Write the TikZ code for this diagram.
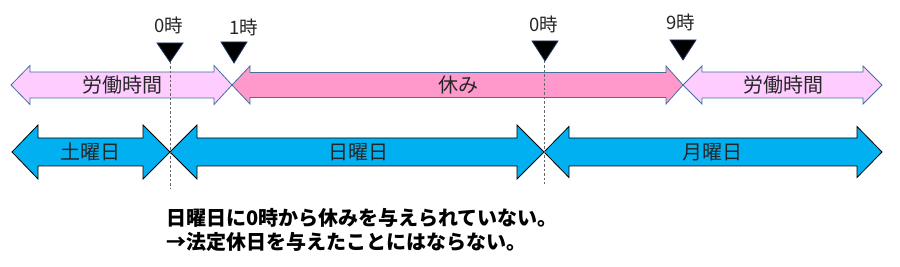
\documentclass[tikz,border=0pt]{standalone}
\usepackage{fontspec}
\newfontfamily\jp{Noto Sans CJK JP}
\definecolor{lpink}{HTML}{FFCCFF}
\definecolor{mpink}{HTML}{FF99CC}
\definecolor{dayblue}{HTML}{00B0F0}
\definecolor{edgeblue}{HTML}{41719C}
\definecolor{tridge}{HTML}{203864}
\definecolor{txt}{HTML}{262626}
\newcommand{\dblarr}[8]{%
  \filldraw[#1] (#2,#6) -- (#3,#6-#8) -- (#3,#6-#7) -- (#4,#6-#7) -- (#4,#6-#8) -- (#5,#6)
    -- (#4,#6+#8) -- (#4,#6+#7) -- (#3,#6+#7) -- (#3,#6+#8) -- cycle;}
\newcommand{\marktri}[3]{%
  \filldraw[tri] (#1-13,#2) -- (#1+13,#2) -- (#1,#3) -- cycle;}
\tikzset{
  workarr/.style={fill=lpink, draw=edgeblue, line width=0.8pt, line join=miter},
  restarr/.style={fill=mpink, draw=edgeblue, line width=0.8pt, line join=miter},
  dayarr/.style={fill=dayblue, draw=black, line width=0.8pt, line join=miter},
  tri/.style={fill=black, draw=tridge, line width=0.8pt},
  lbl/.style={font=\jp\fontsize{20}{23}\selectfont, text=txt, inner sep=0pt},
  timelbl/.style={font=\jp\fontsize{18.5}{21}\selectfont, text=txt, inner sep=0pt},
  note/.style={font=\jp\bfseries\fontsize{20}{23}\selectfont, text=black, inner sep=0pt, anchor=west},
  guide/.style={draw=gray!80!black, dashed, line width=0.7pt, dash pattern=on 2.5pt off 2pt}
}
\begin{document}
\begin{tikzpicture}[x=1pt, y=-1pt]
\useasboundingbox (0,0) rectangle (900,267);
% top row
\dblarr{workarr}{11}{30}{214}{232}{85}{13}{19.5}
\dblarr{restarr}{232}{250}{666}{683}{85}{12.5}{19}
\dblarr{workarr}{683}{702}{863}{882}{85}{13}{19}
% bottom row
\dblarr{dayarr}{12}{38}{143}{170}{152}{14}{27}
\dblarr{dayarr}{170}{197}{517}{544}{152}{14}{27}
\dblarr{dayarr}{544}{569}{857}{882}{152}{14}{25.5}
% guides
\coordinate (g1t) at (170,62); \coordinate (g1b) at (170,189);
\coordinate (g2t) at (544,61); \coordinate (g2b) at (544,184);
\draw[guide] (g1t) -- (g1b);
\draw[guide] (g2t) -- (g2b);
% markers
\marktri{170}{43}{62}
\marktri{234}{42}{63}
\marktri{545}{41}{61}
\marktri{683}{40}{60}
\node[timelbl] (t0a) at (169,25) {0時};
\node[timelbl] (t1) at (244,27) {1時};
\node[timelbl] (t0b) at (544,24) {0時};
\node[timelbl] (t9) at (681,22) {9時};
% arrow labels
\node[lbl] (w1) at (122,85) {労働時間};
\node[lbl] (r1) at (458,85) {休み};
\node[lbl] (w2) at (783,85) {労働時間};
\node[lbl] (sat) at (90,152) {土曜日};
\node[lbl] (sun) at (358,152) {日曜日};
\node[lbl] (mon) at (712,152) {月曜日};
% note
\node[note] (n1) at (166,218) {日曜日に0時から休みを与えられていない。};
\node[note] (n2) at (166,242) {→法定休日を与えたことにはならない。};
\end{tikzpicture}
\end{document}
